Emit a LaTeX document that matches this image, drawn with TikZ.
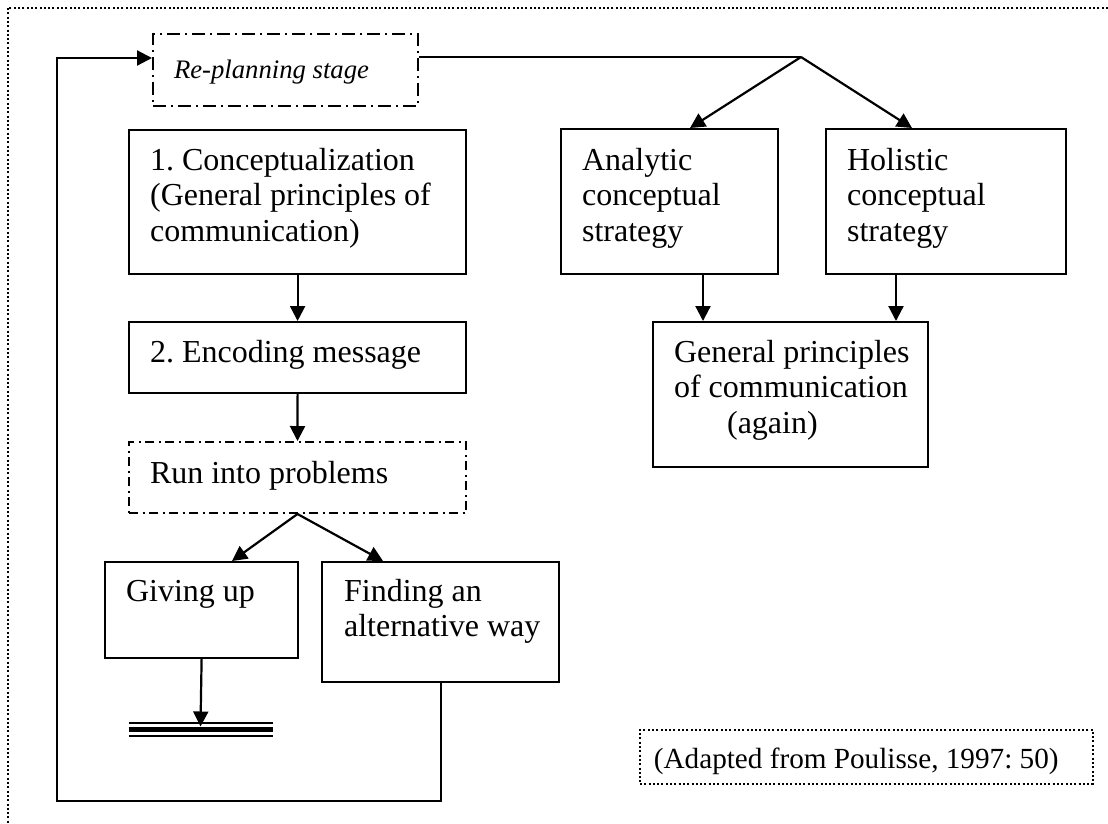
\documentclass[tikz,border=0pt]{standalone}
\usepackage{fontspec}
\setmainfont{Liberation Serif}
\usetikzlibrary{arrows.meta}
\frenchspacing

\newcommand\bodyfont{\fontsize{32}{35.5}\selectfont}
\newcommand\stagefont{\fontsize{26.7}{30}\selectfont\itshape}
\newcommand\notefont{\fontsize{29.2}{33}\selectfont}
% left-aligned block of lines whose baseline is the first line
\newcommand\boxlines[1]{\begin{tabular}[t]{@{}l@{}}#1\end{tabular}}
% fixed-width content with a left inset
\newcommand\inbox[3]{\makebox[#1][l]{\hspace{#2}\boxlines{#3}}}

\tikzset{
  frame/.style={draw, line width=2.2pt, inner sep=0pt, anchor=north west, font=\bodyfont},
  dashdotlong/.style={draw, line width=2pt, dash pattern=on 13pt off 5pt on 2pt off 5pt},
  dashdotshort/.style={draw, line width=2pt, dash pattern=on 9pt off 4.5pt on 2pt off 4.5pt},
  dotframe/.style={draw, line width=1.8pt, dash pattern=on 2pt off 2.3pt},
  link/.style={line width=2.2pt},
  arr/.style={link, -{Triangle[length=15pt,width=15pt]}},
}

\begin{document}
\begin{tikzpicture}[x=1pt, y=-1pt]
\useasboundingbox (0,0) rectangle (1108,823);

% outer frame (only its top and left sides lie inside the page)
\begin{scope}
  \clip (0,0) rectangle (1108,823);
  \draw[dotframe] (8,8) rectangle (1140,860);
\end{scope}

% boxes
\node[frame, dashdotlong, font=\stagefont, text height=44pt, text depth=28pt] (replan) at (152,33)
  {\inbox{265pt}{21pt}{Re-planning stage}};

\node[frame, text height=40pt, text depth=104pt] (concept) at (128,129)
  {\inbox{337pt}{21pt}{1. Conceptualization\\(General principles of\\communication)}};

\node[frame, text height=40pt, text depth=31pt] (encode) at (128,321)
  {\inbox{337pt}{21pt}{2. Encoding message}};

\node[frame, dashdotshort, text height=41pt, text depth=30pt] (problems) at (128,441)
  {\inbox{337pt}{21pt}{Run into problems}};

\node[frame, text height=39pt, text depth=57pt] (giveup) at (104,561)
  {\inbox{193pt}{21pt}{Giving up}};

\node[frame, text height=39pt, text depth=81pt] (alternative) at (321,561)
  {\inbox{237pt}{22pt}{Finding an\\alternative way}};

\node[frame, text height=41pt, text depth=104pt] (analytic) at (560,128)
  {\inbox{217pt}{21pt}{Analytic\\conceptual\\strategy}};

\node[frame, text height=41pt, text depth=104pt] (holistic) at (825,128)
  {\inbox{240pt}{21pt}{Holistic\\conceptual\\strategy}};

\node[frame, text height=40pt, text depth=105pt] (general) at (652,321)
  {\inbox{275pt}{21pt}{General principles\\of communication\\\hspace{53pt}(again)}};

\node[frame, dotframe, font=\notefont, text height=39pt, text depth=15pt] (source) at (639,729)
  {\inbox{453pt}{14pt}{(Adapted from Poulisse, 1997: 50)}};

% connectors
\coordinate (fork) at (801,57);
\coordinate (ground) at (200.5,729);
\coordinate (loopcorner) at (57,801);

\draw[link] (replan.east |- fork) -- (fork);
\draw[arr] (fork) -- ([xshift=130pt]analytic.north west);
\draw[arr] (fork) -- ([xshift=87pt]holistic.north west);

\draw[arr] ([xshift=143pt]analytic.south west) -- ([xshift=51pt]general.north west);
\draw[arr] ([xshift=71pt]holistic.south west) -- ([xshift=244pt]general.north west);

\draw[arr] (concept.south) -- (encode.north);
\draw[arr] (encode.south) -- (problems.north);

\draw[arr] (problems.south) -- ([xshift=128pt]giveup.north west);
\draw[arr] (problems.south) -- ([xshift=62pt]alternative.north west);

\draw[arr] (giveup.south) -- ([yshift=2.5pt]ground);
\draw[line width=2pt] ([shift={(-72,-6.5)}]ground) -- ++(144,0);
\draw[line width=5pt] ([shift={(-72,0)}]ground) -- ++(144,0);
\draw[line width=2pt] ([shift={(-72,6.5)}]ground) -- ++(144,0);

\draw[arr] (alternative.south) |- (loopcorner) |- ([yshift=12pt]replan.west);
\end{tikzpicture}
\end{document}
